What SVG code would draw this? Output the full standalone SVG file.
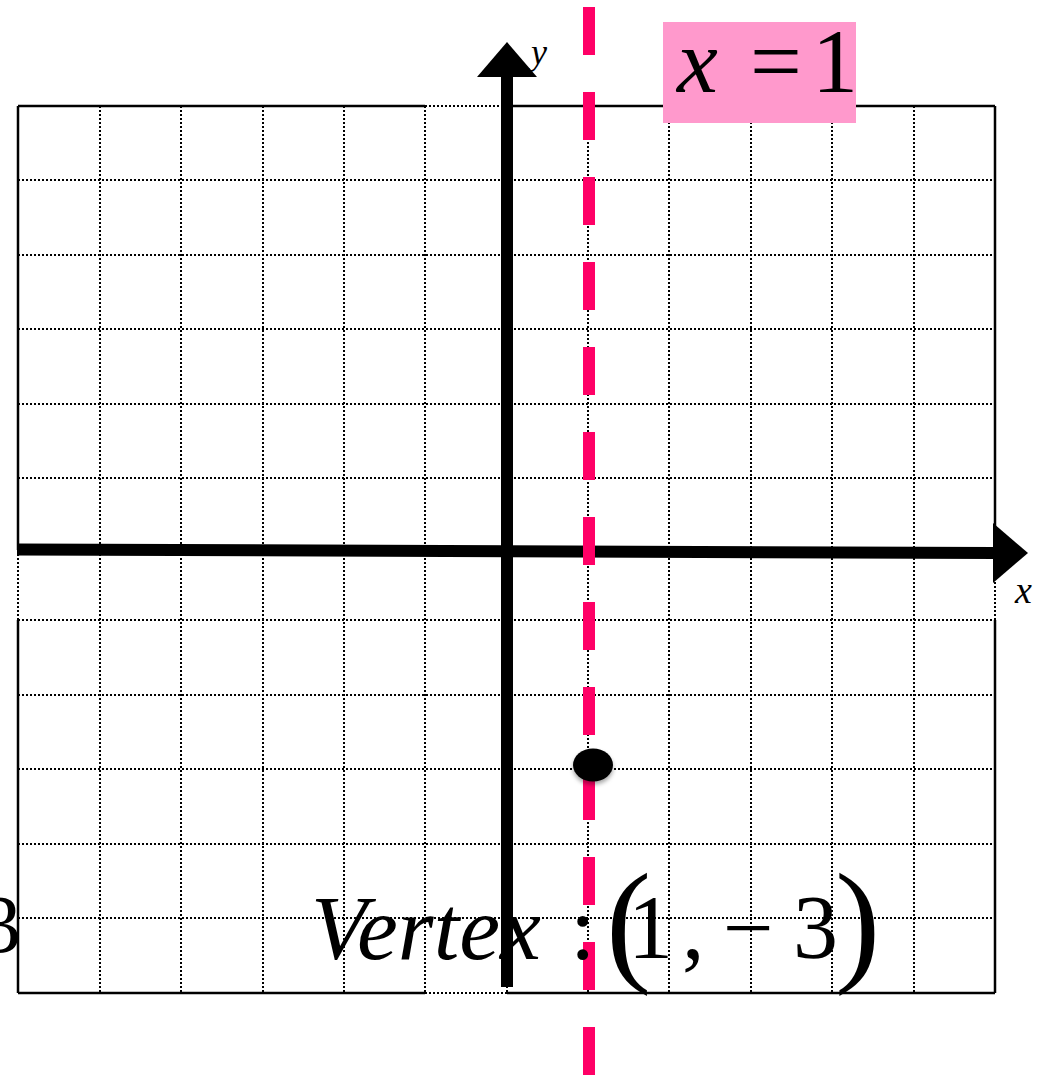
<svg xmlns="http://www.w3.org/2000/svg" width="1042" height="1076" viewBox="0 0 1042 1076">
<style>
.dot{stroke:#000;stroke-width:2;stroke-dasharray:2 2;fill:none}
.solid{stroke:#000;stroke-width:2.5;fill:none}
.axis{stroke:#000;stroke-width:12;fill:none}
.serif{font-family:"Liberation Serif","Times New Roman",serif;fill:#000}
.it{font-style:italic}
</style>
<defs>
<filter id="sh" x="-50%" y="-50%" width="200%" height="200%">
<feDropShadow dx="0" dy="3" stdDeviation="2" flood-color="#000" flood-opacity="0.35"/>
</filter>
</defs>
<rect width="1042" height="1076" fill="#fff"/>
<g id="grid">
<path class="dot" d="M100 106V993M181 106V993M263 106V993M344 106V993M425 106V993M507 106V993M588 106V993M669 106V993M751 106V993M832 106V993M914 106V993"/>
<path class="dot" d="M18 180H995M18 255H995M18 329H995M18 404H995M18 478H995M18 620H995M18 695H995M18 769H995M18 844H995M18 918H995"/>
<path class="dot" d="M425 106H507M425 993H507M18 550V620M995 550V620"/>
<path class="solid" d="M18 106H425M507 106H995M18 993H425M507 993H995M18 106V550M18 620V993M995 106V550M995 620V993"/>
</g>
<g id="vertex-word">
<text class="serif it" x="311" y="959" font-size="92">Vertex</text>
</g>
<g id="axes">
<path class="axis" d="M17 549.5L996 553"/>
<polygon points="993,523 1028,553 993,583" fill="#000"/>
<path class="axis" d="M507 76V987"/>
<polygon points="477,77 507,42 537,77" fill="#000"/>
<text class="serif it" x="531" y="64" font-size="36">y</text>
<text class="serif it" x="1015" y="603" font-size="38">x</text>
</g>
<g id="symmetry-line">
<path d="M589 7V1076" stroke="#FF0066" stroke-width="12" stroke-dasharray="48 37" fill="none"/>
<rect x="663" y="22" width="193" height="101" fill="#FF99CC"/>
<text class="serif it" x="677" y="92" font-size="92">x</text>
<text class="serif" x="750" y="92" font-size="92">=</text>
<text class="serif" x="812" y="92" font-size="92">1</text>
</g>
<g id="vertex-label">
<text class="serif" x="570" y="959" font-size="92">:</text>
<text class="serif" x="606" y="967" font-size="136">(</text>
<text class="serif" x="628" y="958" font-size="90">1</text>
<text class="serif" x="682" y="958" font-size="90">,</text>
<text class="serif" x="723" y="958" font-size="90">−</text>
<text class="serif" x="793" y="958" font-size="90">3</text>
<text class="serif" x="835" y="967" font-size="136">)</text>
<text class="serif" x="-20" y="952" font-size="82">3</text>
</g>
<g id="vertex-point">
<ellipse cx="593" cy="765" rx="20" ry="16.5" fill="#000" filter="url(#sh)"/>
</g>
</svg>
